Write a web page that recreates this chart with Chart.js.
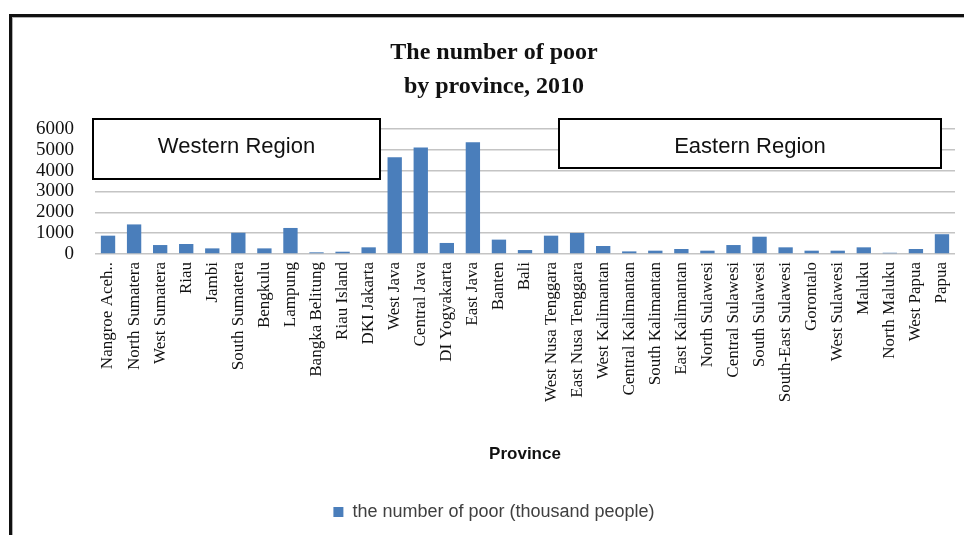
<!DOCTYPE html>
<html>
<head>
<meta charset="utf-8">
<title>The number of poor by province, 2010</title>
<script src="https://cdn.jsdelivr.net/npm/chart.js@4"></script>
<style>
    html, body { margin: 0; padding: 0; background: #fff; overflow: hidden; }
    #wrap { position: absolute; left: 0; top: 0; width: 988px; height: 535px; }
    #frame {
        position: absolute; left: 9px; top: 14px; width: 2000px; height: 2000px;
        border-left: 3px solid #111; border-top: 3px solid #111;
        box-shadow: inset 1px 1px 0 #b0b0b0;
        pointer-events: none;
    }
</style>
</head>
<body>
<div id="wrap"><canvas id="poorChart" width="988" height="535"></canvas></div>
<div id="frame"></div>
<script>
// --------------------- DATA ------------------------
const provinces = [
    "Nangroe Aceh..", "North Sumatera", "West Sumatera", "Riau", "Jambi",
    "South Sumatera", "Bengkulu", "Lampung", "Bangka Belitung", "Riau Island",
    "DKI Jakarta", "West Java", "Central Java", "DI Yogyakarta", "East Java",
    "Banten", "Bali", "West Nusa Tenggara", "East Nusa Tenggara", "West Kalimantan",
    "Central Kalimantan", "South Kalimantan", "East Kalimantan", "North Sulawesi",
    "Central Sulawesi", "South Sulawesi", "South-East Sulawesi", "Gorontalo",
    "West Sulawesi", "Maluku", "North Maluku", "West Papua", "Papua"
];

// thousand people
const poor = [
    880, 1420, 430, 480, 270,
    1020, 270, 1250, 80, 110,
    320, 4650, 5110, 530, 5360,
    690, 190, 880, 1010, 385,
    125, 160, 240, 160,
    430, 830, 320, 160,
    160, 320, 60, 240, 950
];

const yTicks = [0, 1000, 2000, 3000, 4000, 5000, 6000];
const regionNames = ["Western Region", "Eastern Region"];

// --------------------- REGION BOXES ------------------------
const regionBoxes = {
    id: 'regionBoxes',
    afterDatasetsDraw(chart) {
        const ctx = chart.ctx;
        const boxes = [
            { x: 93, y: 119, w: 287, h: 60, text: regionNames[0] },
            { x: 559, y: 119, w: 382, h: 49, text: regionNames[1] }
        ];
        ctx.save();
        boxes.forEach(b => {
            ctx.fillStyle = '#fff';
            ctx.fillRect(b.x, b.y, b.w, b.h);
            ctx.lineWidth = 2;
            ctx.strokeStyle = '#000';
            ctx.strokeRect(b.x, b.y, b.w, b.h);
            ctx.fillStyle = '#111';
            ctx.font = '22px "Liberation Sans", Arial, sans-serif';
            ctx.textAlign = 'center';
            ctx.textBaseline = 'alphabetic';
            ctx.fillText(b.text, b.x + b.w / 2, 152.5);
        });
        ctx.restore();
    }
};

// --------------------- CHART ------------------------
const ctx = document.getElementById('poorChart').getContext('2d');
let poorChart = new Chart(ctx, {
    type: 'bar',
    data: {
        labels: provinces,
        datasets: [{
            label: 'the number of poor (thousand people)',
            data: poor,
            backgroundColor: '#4a7ebb',
            borderWidth: 0,
            barPercentage: 0.55,
            categoryPercentage: 1
        }]
    },
    options: {
        responsive: false,
        animation: false,
        layout: { padding: { left: 33, right: 33, top: 0, bottom: 4 } },
        plugins: {
            title: {
                display: true,
                text: ['The number of poor', 'by province, 2010'],
                color: '#111',
                font: { family: '"Liberation Serif", serif', size: 24, weight: 'bold', lineHeight: 34 / 24 },
                padding: { top: 36, bottom: 25 }
            },
            legend: {
                position: 'bottom',
                labels: {
                    color: '#404040',
                    boxWidth: 10,
                    boxHeight: 10,
                    padding: 10,
                    font: { family: '"Liberation Sans", Arial, sans-serif', size: 18 }
                }
            },
            tooltip: { enabled: false }
        },
        scales: {
            x: {
                grid: { display: false, drawTicks: false },
                border: { display: false },
                ticks: {
                    autoSkip: false,
                    minRotation: 90,
                    maxRotation: 90,
                    padding: 8,
                    color: '#111',
                    font: { family: '"Liberation Serif", serif', size: 17 }
                },
                title: {
                    display: true,
                    text: 'Province',
                    color: '#111',
                    font: { family: '"Liberation Sans", Arial, sans-serif', size: 17, weight: 'bold' },
                    padding: { top: 0, bottom: 28 }
                },
                afterFit(scale) { scale.height = 239; }
            },
            y: {
                min: 0,
                max: 6000,
                grid: { color: '#c4c4c4', lineWidth: 1.5, drawTicks: false },
                border: { display: false },
                ticks: {
                    autoSkip: false,
                    padding: 21,
                    color: '#111',
                    font: { family: '"Liberation Serif", serif', size: 19 },
                    callback: v => String(v)
                },
                afterBuildTicks(scale) { scale.ticks = yTicks.map(v => ({ value: v })); },
                afterFit(scale) { scale.width = 62; }
            }
        }
    },
    plugins: [regionBoxes]
});
</script>
</body>
</html>
